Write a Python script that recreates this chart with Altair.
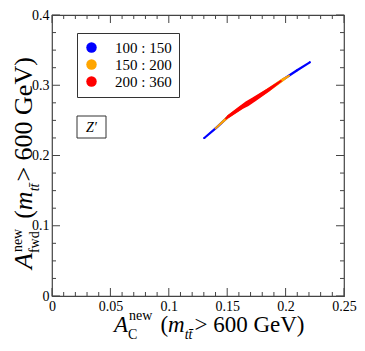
import altair as alt
import pandas as pd

# ---------------- data ----------------
series_names = ["100 : 150", "150 : 200", "200 : 360"]
series_colors = ["#0000ff", "#ffa500", "#ff0000"]

blue_x = [0.1304, 0.1413, 0.1513, 0.1622, 0.1731, 0.1848, 0.1982, 0.2099, 0.2207]
blue_y = [0.2249, 0.2404, 0.2559, 0.2687, 0.2801, 0.2929, 0.3084, 0.3212, 0.3327]
blue_spread = [0.0035, 0.004, 0.004, 0.004, 0.004, 0.004, 0.004, 0.004, 0.0035]

orange_x = [0.1400, 0.1513, 0.1622, 0.1731, 0.1848, 0.1982, 0.2030]
orange_y = [0.2385, 0.2559, 0.2687, 0.2801, 0.2929, 0.3084, 0.3135]
orange_spread = [0.003, 0.005, 0.006, 0.006, 0.006, 0.005, 0.003]

red_x = [0.1490, 0.1513, 0.1622, 0.1670, 0.1731, 0.1848, 0.1960]
red_y = [0.2525, 0.2559, 0.2687, 0.2737, 0.2801, 0.2929, 0.3060]
red_spread = [0.003, 0.005, 0.007, 0.009, 0.008, 0.006, 0.003]

x_major = [0, 0.05, 0.1, 0.15, 0.2, 0.25]
x_minor = [0.01, 0.02, 0.03, 0.04, 0.06, 0.07, 0.08, 0.09, 0.11, 0.12, 0.13, 0.14,
           0.16, 0.17, 0.18, 0.19, 0.21, 0.22, 0.23, 0.24]
y_major = [0, 0.1, 0.2, 0.3, 0.4]
y_minor = [0.025, 0.05, 0.075, 0.125, 0.15, 0.175, 0.225, 0.25, 0.275,
           0.325, 0.35, 0.375]

# ---------------- layout ----------------
W, H = 292, 281
FONT = "Liberation Serif"
AXC = "#444"
MAJ, MIN = 8, 4
TF = 23      # x title font
SF = 14      # sub/superscript font
YTF = 26     # y title font
YSF = 14

xs = alt.Scale(domain=[0, 0.25], nice=False, zero=False)
ys = alt.Scale(domain=[0, 0.4], nice=False, zero=False)
cs = alt.Scale(domain=series_names, range=series_colors)

xaxis = alt.Axis(values=x_major, format="~g", ticks=False, domain=False, grid=False,
                 labelFont=FONT, labelFontSize=14, labelColor="black", labelPadding=3,
                 labelFlush=False, labelOverlap=False, title=None)
yaxis = alt.Axis(values=y_major, format="~g", ticks=False, domain=False, grid=False,
                 labelFont=FONT, labelFontSize=14, labelColor="black", labelPadding=3,
                 labelFlush=False, labelOverlap=False, title=None)

rows = []
for name, xx, yy, ss in [(series_names[0], blue_x, blue_y, blue_spread),
                         (series_names[1], orange_x, orange_y, orange_spread),
                         (series_names[2], red_x, red_y, red_spread)]:
    for i, (a, b, s) in enumerate(zip(xx, yy, ss)):
        rows.append({"series": name, "x": a, "y": b, "spread": s, "i": i})
df = pd.DataFrame(rows)

layers = []
# circles (drive the legend; hidden under the trails)
layers.append(alt.Chart(df).mark_circle(size=4, opacity=1).encode(
    x=alt.X("x:Q", scale=xs, axis=xaxis),
    y=alt.Y("y:Q", scale=ys, axis=yaxis),
    color=alt.Color("series:N", scale=cs, title=None,
                    legend=alt.Legend(symbolType="circle", labelFont=FONT)),
))
for name in series_names:
    layers.append(
        alt.Chart(df).transform_filter(alt.datum.series == name).mark_trail().encode(
            x=alt.X("x:Q", scale=xs, axis=xaxis),
            y=alt.Y("y:Q", scale=ys, axis=yaxis),
            color=alt.Color("series:N", scale=cs, legend=None),
            size=alt.Size("spread:Q", scale=alt.Scale(domain=[0, 0.02], range=[0, 12]),
                          legend=None),
            order="i:Q",
        )
    )

def ticks(vals, which, length):
    d = pd.DataFrame({"x": vals, "y": vals})
    base = alt.Chart(d).mark_rule(color=AXC, strokeWidth=1)
    if which == "bottom":
        return base.encode(x=alt.X("x:Q", scale=xs, axis=xaxis), y=alt.value(H), y2=alt.value(H - length))
    if which == "top":
        return base.encode(x=alt.X("x:Q", scale=xs, axis=xaxis), y=alt.value(0), y2=alt.value(length))
    if which == "left":
        return base.encode(y=alt.Y("y:Q", scale=ys, axis=yaxis), x=alt.value(0), x2=alt.value(length))
    return base.encode(y=alt.Y("y:Q", scale=ys, axis=yaxis), x=alt.value(W), x2=alt.value(W - length))

for side in ["bottom", "top"]:
    layers.append(ticks(x_major, side, MAJ))
    layers.append(ticks(x_minor, side, MIN))
for side in ["left", "right"]:
    layers.append(ticks(y_major, side, MAJ))
    layers.append(ticks(y_minor, side, MIN))

def txt(s, x, y, size, italic=False, angle=0, align="left", baseline="alphabetic"):
    kw = dict(font=FONT, fontSize=size, align=align, baseline=baseline, color="black")
    if italic:
        kw["fontStyle"] = "italic"
    if angle:
        kw["angle"] = angle
    return alt.Chart(pd.DataFrame({"t": [s]})).mark_text(**kw).encode(
        text="t:N", x=alt.value(x), y=alt.value(y))

# Z' box
layers.append(alt.Chart(pd.DataFrame({"t": ["Z′"]})).mark_rect(
    fill="white", stroke="#333", strokeWidth=1).encode(
    x=alt.value(25), x2=alt.value(54), y=alt.value(101), y2=alt.value(123)))
layers.append(txt("Z′", 39.5, 117, 14, italic=True, align="center"))

# x-axis title pieces
w_A = 0.611 * TF
w_new = 1.666 * SF
w_par = 0.333 * TF
w_m = 0.722 * TF
w_tt = 0.556 * SF
bx = 62
by = H + 36
layers.append(txt("A", bx, by, TF, italic=True))
layers.append(txt("new", bx + w_A + 1, by - 12, SF))
layers.append(txt("C", bx + w_A, by + 7, SF))
p = bx + w_A + w_new + 9
layers.append(txt("(", p, by, TF))
layers.append(txt("m", p + w_par, by, TF, italic=True))
layers.append(txt("tt\u0304", p + w_par + w_m, by + 7, SF, italic=True))
layers.append(txt("> 600 GeV)", p + w_par + w_m + w_tt + 2, by, TF))

# y-axis title pieces (rotated)
yw_A = 0.611 * YTF
yw_new = 1.666 * YSF
yw_par = 0.333 * YTF
yw_m = 0.722 * YTF
yw_tt = 0.556 * YSF
ax = -20
ay = 254
layers.append(txt("A", ax, ay, YTF, italic=True, angle=270))
layers.append(txt("new", ax - 10, ay - yw_A - 1, YSF, angle=270))
layers.append(txt("fwd", ax + 7, ay - yw_A, YSF, angle=270))
q = ay - yw_A - yw_new - 11
layers.append(txt("(", ax, q, YTF, angle=270))
layers.append(txt("m", ax, q - yw_par, YTF, italic=True, angle=270))
layers.append(txt("tt\u0304", ax + 7, q - yw_par - yw_m, YSF, italic=True, angle=270))
layers.append(txt("> 600 GeV)", ax, q - yw_par - yw_m - yw_tt - 2, YTF, angle=270))

chart = alt.layer(*layers).properties(
    width=W, height=H,
    autosize=alt.AutoSizeParams(type="none"),
    padding={"left": 44, "top": 7, "right": 13, "bottom": 47},
).resolve_legend(color="independent", size="independent").configure(
    font=FONT
).configure_view(
    stroke=AXC, strokeWidth=1.2
).configure_axis(labelFont=FONT).configure_legend(
    orient="none", legendX=25, legendY=18, strokeColor="#333", padding=7,
    symbolType="circle", symbolSize=110, symbolStrokeWidth=0, symbolOpacity=1,
    labelFont=FONT, labelFontSize=15, labelColor="black", labelOffset=16,
    rowPadding=1, fillColor="white",
)

chart.save("out.html", embed_options={"renderer": "svg", "actions": False})
